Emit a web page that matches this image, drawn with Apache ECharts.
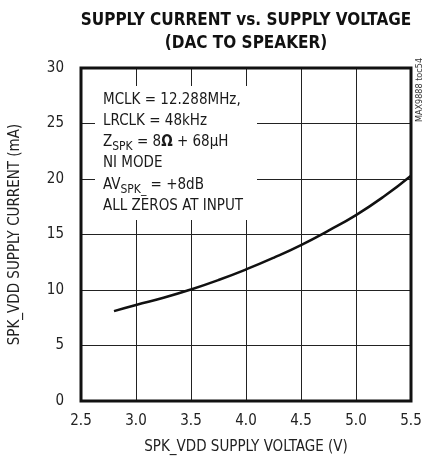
<!DOCTYPE html>
<html>
<head>
<meta charset="utf-8">
<style>
  html, body { margin: 0; padding: 0; background: #fff; }
  #chart { width: 425px; height: 462px; }
</style>
<script src="https://cdn.jsdelivr.net/npm/echarts@6/dist/echarts.min.js"></script>
</head>
<body>
<div id="chart"></div>
<script>
// Supply voltage (V) and measured supply current (mA)
const voltage = [2.8, 3.0, 3.25, 3.5, 3.75, 4.0, 4.25, 4.5, 4.75, 5.0, 5.25, 5.5];
const current = [8.1, 8.65, 9.3, 10.05, 10.9, 11.85, 12.9, 14.05, 15.35, 16.75, 18.4, 20.3];

const xTicks = [2.5, 3.0, 3.5, 4.0, 4.5, 5.0, 5.5];
const yTicks = [0, 5, 10, 15, 20, 25, 30];

const titleLines = ['SUPPLY CURRENT vs. SUPPLY VOLTAGE', '(DAC TO SPEAKER)'];
const conditions = [
  'MCLK = 12.288MHz,',
  'LRCLK = 48kHz',
  'Z{sub|SPK} = 8{b|Ω} + 68µH',
  'NI MODE',
  'AV{sub|SPK_} = +8dB',
  'ALL ZEROS AT INPUT'
];

const narrow = '"Liberation Sans Narrow", "DejaVu Sans Condensed", "Liberation Sans", sans-serif';

const chart = echarts.init(document.getElementById('chart'), null, { renderer: 'canvas' });

chart.setOption({
  animation: false,
  backgroundColor: '#fff',
  title: {
    text: titleLines.join('\n'),
    left: 241,
    top: 4,
    textAlign: 'center',
    textStyle: {
      fontFamily: narrow,
      fontWeight: 'bold',
      fontSize: 17,
      lineHeight: 23,
      color: '#111'
    }
  },
  grid: { left: 81, right: 14, top: 68, bottom: 61 },
  xAxis: {
    type: 'value',
    min: xTicks[0],
    max: xTicks[xTicks.length - 1],
    interval: 0.5,
    name: 'SPK_VDD SUPPLY VOLTAGE (V)',
    nameLocation: 'middle',
    nameGap: 39,
    nameTextStyle: { fontFamily: narrow, fontSize: 15, color: '#222' },
    axisLine: { show: false },
    axisTick: { show: false },
    axisLabel: {
      margin: 13,
      fontFamily: narrow,
      fontSize: 15,
      color: '#222',
      formatter: v => v.toFixed(1)
    },
    splitLine: { show: true, lineStyle: { color: '#222', width: 1 } }
  },
  yAxis: {
    type: 'value',
    min: yTicks[0],
    max: yTicks[yTicks.length - 1],
    interval: 5,
    name: 'SPK_VDD SUPPLY CURRENT (mA)',
    nameLocation: 'middle',
    nameGap: 58,
    nameTextStyle: { fontFamily: narrow, fontSize: 15, color: '#222' },
    axisLine: { show: false },
    axisTick: { show: false },
    axisLabel: { margin: 17, fontFamily: narrow, fontSize: 15, color: '#222' },
    splitLine: { show: true, lineStyle: { color: '#222', width: 1 } }
  },
  graphic: [
    {
      // heavy plot frame
      type: 'rect',
      shape: { x: 81, y: 68, width: 330, height: 333 },
      style: { fill: 'none', stroke: '#111', lineWidth: 3 },
      z: 10
    },
    {
      // white panel behind the test conditions
      type: 'rect',
      shape: { x: 95, y: 86, width: 162, height: 134 },
      style: { fill: '#fff' },
      z: 5
    },
    {
      type: 'text',
      left: 103,
      top: 89,
      z: 6,
      style: {
        text: conditions.join('\n'),
        fontFamily: narrow,
        fontSize: 15,
        lineHeight: 21.3,
        fill: '#1a1a1a',
        rich: {
          sub: { fontFamily: narrow, fontSize: 12, verticalAlign: 'bottom', padding: [5, 0, 0, 0], lineHeight: 21.3 },
          b: { fontFamily: narrow, fontSize: 15, fontWeight: 'bold', lineHeight: 21.3 }
        }
      }
    },
    {
      type: 'text',
      x: 420,
      y: 90,
      rotation: Math.PI / 2,
      z: 6,
      style: {
        text: 'MAX9888 toc54',
        fontFamily: narrow,
        fontSize: 9,
        fill: '#333',
        align: 'center',
        verticalAlign: 'middle'
      }
    }
  ],
  series: [
    {
      type: 'line',
      data: voltage.map((v, i) => [v, current[i]]),
      smooth: true,
      showSymbol: false,
      lineStyle: { color: '#111', width: 2.5 },
      z: 8
    }
  ]
});
</script>
</body>
</html>
